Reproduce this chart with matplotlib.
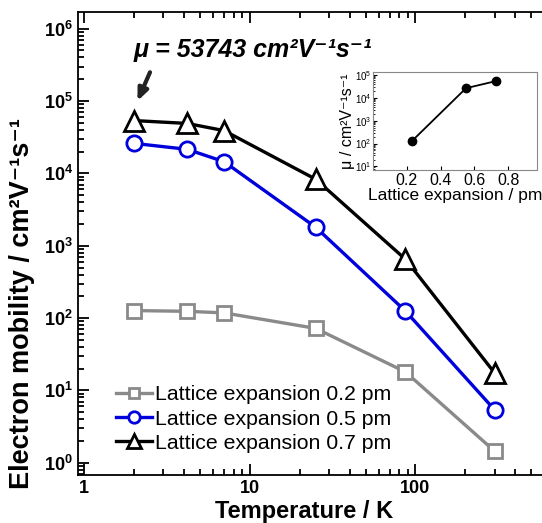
import numpy as np
import matplotlib
matplotlib.use("Agg")
import matplotlib.pyplot as plt
from matplotlib.ticker import LogLocator, NullFormatter

plt.rcParams["font.family"] = ["Liberation Sans", "DejaVu Sans"]
plt.rcParams["mathtext.fontset"] = "custom"
plt.rcParams["mathtext.rm"] = "Liberation Sans"
plt.rcParams["mathtext.bf"] = "Liberation Sans:bold"
plt.rcParams["mathtext.it"] = "Liberation Sans:italic"

# data
temperature = [2, 4.2, 7, 25, 87, 300]
mob_02 = [127, 124, 118, 72, 18, 1.45]
mob_05 = [26000, 21500, 14500, 1800, 125, 5.4]
mob_07 = [53743, 49000, 39000, 8300, 650, 17.5]

expansion = [0.23, 0.55, 0.73]
mob_2k = [127, 26000, 53743]

labels = ["Lattice expansion 0.2 pm", "Lattice expansion 0.5 pm", "Lattice expansion 0.7 pm"]

fig = plt.figure(figsize=(5.42, 5.23), dpi=100)
ax = fig.add_axes([0.144, 0.092, 0.856, 0.885])

ax.plot(temperature, mob_02, "-s", color="#8a8a8a", lw=2.4, ms=10, mfc="white", mew=2, label=labels[0])
ax.plot(temperature, mob_05, "-o", color="#0000dd", lw=2.4, ms=11, mfc="white", mew=2, label=labels[1])
ax.plot(temperature, mob_07, "-^", color="black", lw=2.4, ms=14, mfc="white", mew=2, label=labels[2])

ax.set_xscale("log")
ax.set_yscale("log")
ax.set_xlim(0.92, 580)
ax.set_ylim(0.68, 1.7e6)
ax.spines["right"].set_visible(False)
for s in ["left", "bottom", "top"]:
    ax.spines[s].set_linewidth(1.3)

ax.xaxis.set_minor_locator(LogLocator(base=10, subs=np.arange(2, 10)))
ax.yaxis.set_minor_locator(LogLocator(base=10, subs=np.arange(2, 10), numticks=20))
ax.xaxis.set_minor_formatter(NullFormatter())
ax.yaxis.set_minor_formatter(NullFormatter())
ax.tick_params(which="both", direction="in", top=True, right=False, width=1.3)
ax.tick_params(which="major", length=8)
ax.tick_params(which="minor", length=4)
ax.set_xticks([1, 10, 100])
ax.set_xticklabels(["1", "10", "100"])
ax.set_yticks([1, 10, 100, 1e3, 1e4, 1e5, 1e6])
ax.set_yticklabels([r"$\mathbf{10^{%d}}$" % i for i in range(7)])
for t in ax.get_xticklabels() + ax.get_yticklabels():
    t.set_fontweight("bold")
    t.set_fontsize(13)

ax.set_xlabel("Temperature / K", fontsize=17, fontweight="bold")
ax.xaxis.set_label_coords(0.487, -0.054)
ax.set_ylabel("Electron mobility / cm²V⁻¹s⁻¹", fontsize=19.5, fontweight="bold")
ax.yaxis.set_label_coords(-0.093, 0.371)

ax.legend(loc="lower left", bbox_to_anchor=(0.055, 0.02), frameon=False, fontsize=15.3,
          handlelength=1.7, handletextpad=0.1, labelspacing=0.25, borderaxespad=0.2,
          markerscale=0.75)

ax.annotate("", xy=(2.1, 1.0e5), xytext=(2.5, 2.5e5),
            arrowprops=dict(arrowstyle="-|>,head_width=0.3,head_length=0.7", color="#222222",
                            lw=3, shrinkA=0, shrinkB=0))
ax.text(2.0, 5.0e5, "μ = 53743 cm²V⁻¹s⁻¹", fontsize=18,
        fontweight="bold", fontstyle="italic", va="center", ha="left")

# inset
ins = fig.add_axes([0.688, 0.675, 0.303, 0.187])
ins.plot(expansion, mob_2k, "-o", color="black", lw=1.3, ms=6)
ins.set_yscale("log")
ins.set_xlim(0.0, 0.97)
ins.set_ylim(7, 1.3e5)
ins.set_xticks([0.2, 0.4, 0.6, 0.8])
ins.set_yticks([10, 100, 1e3, 1e4, 1e5])
ins.set_yticklabels([r"$10^{%d}$" % i for i in range(1, 6)])
ins.yaxis.set_minor_locator(LogLocator(base=10, subs=np.arange(2, 10), numticks=20))
ins.yaxis.set_minor_formatter(NullFormatter())
ins.tick_params(axis="y", which="major", labelsize=7, direction="in", length=3, pad=1)
ins.tick_params(axis="y", which="minor", direction="in", length=1.5)
ins.tick_params(axis="x", labelsize=11.5, direction="in", length=3, pad=2)
for s in ins.spines.values():
    s.set_color("#888888")
ins.set_xlabel("Lattice expansion / pm", fontsize=12.5, labelpad=0)
ins.set_ylabel("μ / cm²V⁻¹s⁻¹", fontsize=11.5, labelpad=0)

fig.savefig("out.png", dpi=100)
